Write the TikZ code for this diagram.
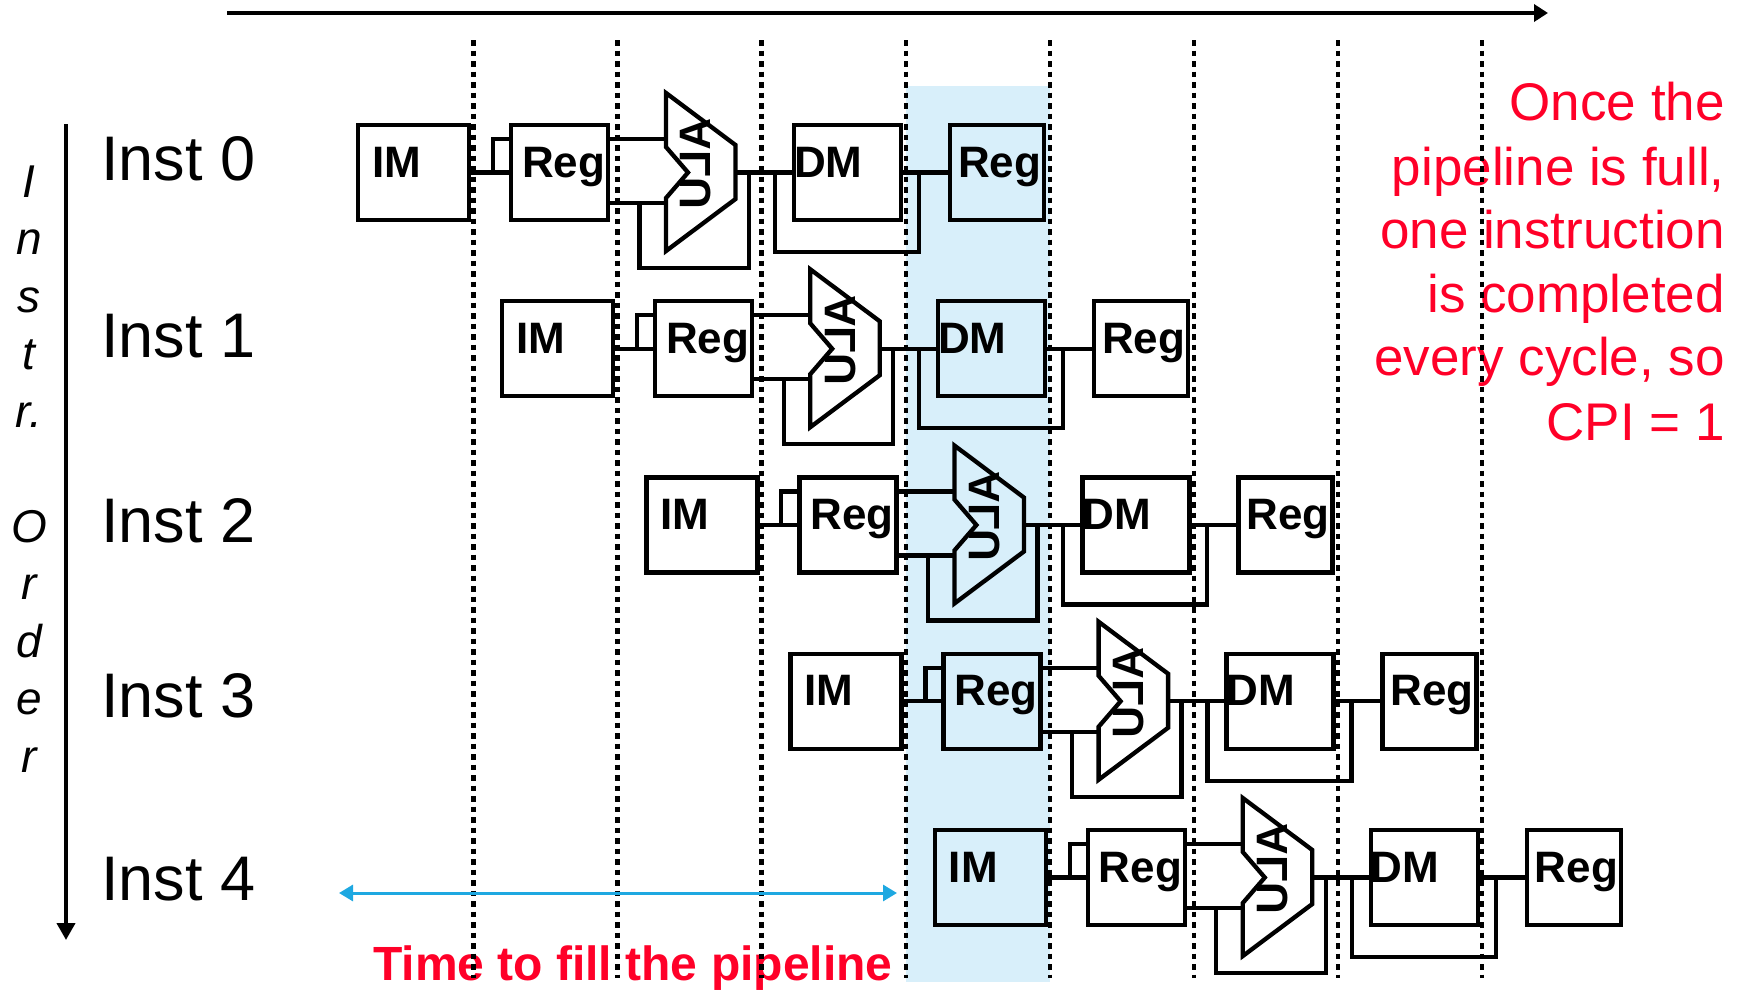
\documentclass[tikz,border=0pt]{standalone}
\usepackage{fontspec}
\setmainfont{Liberation Sans}
\usetikzlibrary{arrows.meta}
\definecolor{notered}{RGB}{255,0,40}
\definecolor{fillspan}{RGB}{30,168,225}
\definecolor{stageshade}{RGB}{216,239,250}
\begin{document}
\begin{tikzpicture}[x = 1pt, y = -1pt,
    unit/.style = {draw, line width = 4.3pt, inner sep = 0pt,
                   text height = 52pt, text depth = 43pt, align = left,
                   font = \fontsize{44}{44}\selectfont\bfseries},
    alutext/.style = {inner sep = 0pt, cm = {0,-1,-1,0,(0,0)},
                      font = \fontsize{44}{44}\selectfont\bfseries},
    wire/.style = {line width = 4.3pt},
    clock/.style = {line width = 4.5pt, dash pattern = on 5.5pt off 5pt},
    axis/.style = {line width = 4pt},
    instlabel/.style = {anchor = base west, inner sep = 0pt,
                        font = \fontsize{63}{63}\selectfont},
    orderchar/.style = {anchor = base, inner sep = 0pt,
                        font = \fontsize{46}{46}\selectfont\itshape},
    noteline/.style = {anchor = base east, inner sep = 0pt, text = notered,
                       font = \fontsize{53}{53}\selectfont}]
  \useasboundingbox (0,0) rectangle (1740,989);
  % the full cycle
  \fill[stageshade] (906,86) rectangle (1050,982);
  % one pipeline per instruction
  \foreach \k in {0,...,4} {
    \begin{scope}[shift = {(144.2*\k, 176.25*\k)}]
      \node[unit, text width = 111pt] (im\k) at (413.5,172.5) {\hspace*{14pt}IM};
      \node[unit, text width = 97pt] (reg\k) at (559.5,172.5) {\hspace*{11pt}Reg};
      \node[unit, text width = 107pt] (dm\k) at (847.5,172.5) {DM};
      \node[unit, text width = 94pt] (wb\k) at (997,172.5) {\hspace*{8pt}Reg};
      \node[alutext] (alu\k) at (696,164) {ALU};
      \draw[wire] (666,93) -- (735.5,145) -- (735.5,199) -- (666,251)
        -- (666,198) -- (688,172.5) -- (666,147) -- cycle;
      \coordinate (ain\k) at (666,139);
      \coordinate (bin\k) at (666,203);
      \coordinate (aout\k) at (735.5,172.5);
      \draw[wire] (im\k) -- (reg\k);
      \draw[wire] ([xshift = -16pt]reg\k.west) |- ([yshift = 33.5pt]reg\k.west);
      \draw[wire] ([yshift = 33.5pt]reg\k.east) -- (ain\k);
      \draw[wire] ([yshift = -30.5pt]reg\k.east) -- (bin\k);
      \draw[wire] ([xshift = -26.5pt]bin\k) |- ++(109.5,65) -- ++(0,-95.5);
      \draw[wire] (aout\k) -- (dm\k);
      \draw[wire] ([xshift = -17pt]dm\k.west) |- ++(144,79.5) -- ++(0,-79.5);
      \draw[wire] (dm\k) -- (wb\k);
    \end{scope}
  }
  % labels
  \foreach \k/\y in {0/180, 1/357, 2/542, 3/717, 4/900}
    \node[instlabel] (inst\k) at (101,\y) {Inst \k};
  \foreach \c/\y [count = \n] in {I/197, n/254.5, s/312, t/369.5, r./427,
                                  O/542, r/599.5, d/657, e/714.5, r/772}
    \node[orderchar] (ord\n) at (29,\y) {\c};
  \foreach \t/\y [count = \n] in {Once the/120, pipeline is full{,}/185,
                                  one instruction/248, is completed/312,
                                  every cycle{,} so/375, CPI = 1/440}
    \node[noteline] (note\n) at (1725,\y) {\t};
  \node[anchor = base west, inner sep = 0pt, text = notered,
        font = \fontsize{48}{48}\selectfont\bfseries] (filltext) at (373,980)
        {Time to fill the pipeline};
  % clock cycles
  \foreach \j in {0,...,7}
    \draw[clock] (473.5 + 144.1*\j, 40) -- (473.5 + 144.1*\j, 978);
  % arrows
  \coordinate (f0) at (339,893);
  \coordinate (f1) at (897,893);
  \draw[fillspan, line width = 3pt,
        {Triangle[length = 14pt, width = 16pt]}-{Triangle[length = 14pt, width = 16pt]}] (f0) -- (f1);
  \coordinate (t0) at (227,13);
  \coordinate (t1) at (1548,13);
  \draw[axis, -{Triangle[length = 14pt, width = 17pt]}] (t0) -- (t1);
  \coordinate (o0) at (66,124);
  \coordinate (o1) at (66,940);
  \draw[axis, -{Triangle[length = 17pt, width = 18pt]}] (o0) -- (o1);
\end{tikzpicture}
\end{document}
